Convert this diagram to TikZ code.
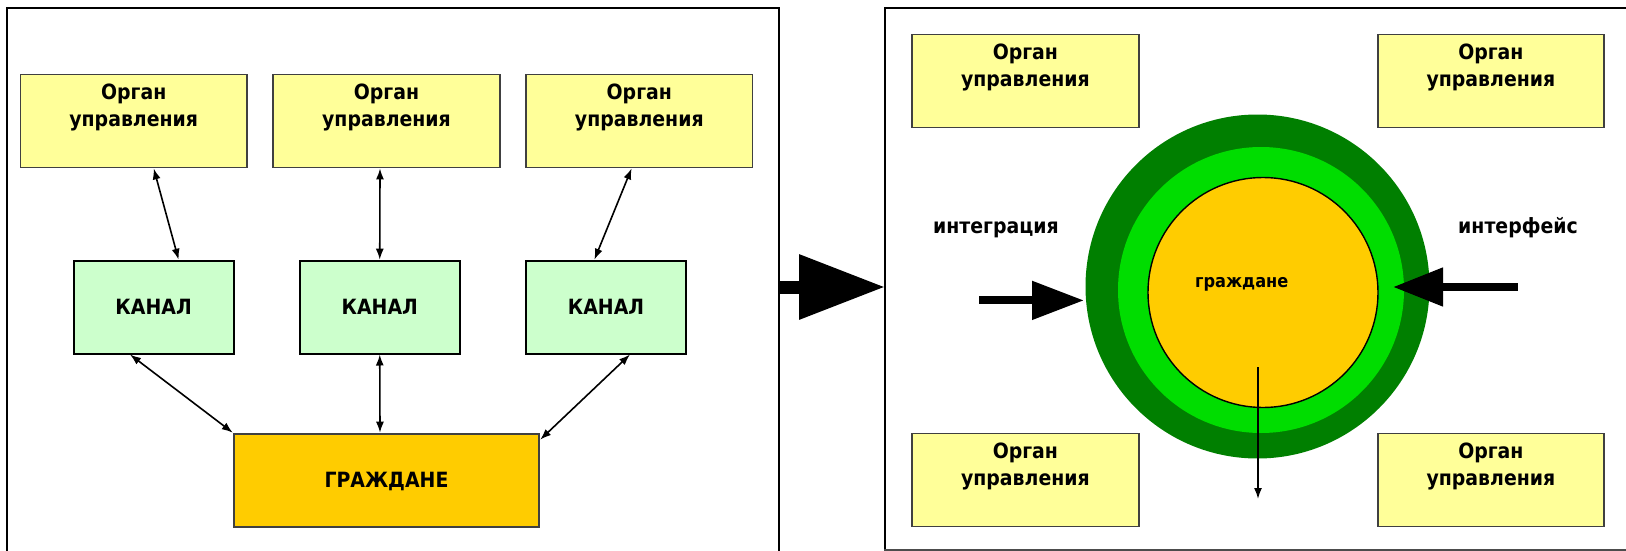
\documentclass[tikz,border=0pt]{standalone}
\usepackage{fontspec}
\setmainfont{DejaVu Sans}[FakeStretch=0.9]
\usetikzlibrary{arrows.meta}
\definecolor{boxyellow}{HTML}{FFFF99}
\definecolor{boxgreen}{HTML}{CCFFCC}
\definecolor{citizen}{HTML}{FFCC00}
\definecolor{darkgr}{HTML}{007F00}
\definecolor{brightgr}{HTML}{00DD00}
\begin{document}
\begin{tikzpicture}[x=1pt,y=-1pt,
  organ/.style={draw=black!75, line width=1.8pt, fill=boxyellow, minimum width=226.5pt, minimum height=93pt, inner sep=0pt},
  organtxt/.style={anchor=north, inner sep=0pt, align=center, font=\bfseries\fontsize{21}{26.2}\selectfont},
  kanal/.style={draw=black, line width=1.8pt, fill=boxgreen, minimum width=160pt, minimum height=93pt, inner sep=0pt, text depth=0pt, font=\bfseries\fontsize{21}{24}\selectfont},
  citbox/.style={draw=black!75, line width=1.8pt, fill=citizen, minimum width=305.6pt, minimum height=93.4pt, inner sep=0pt, text depth=0pt, font=\bfseries\fontsize{21}{24}\selectfont},
  lbl/.style={anchor=base, inner sep=0pt, font=\bfseries\fontsize{21}{24}\selectfont},
  thinarr/.style={line width=1.6pt, {Latex[length=11pt,width=8pt]}-{Latex[length=11pt,width=8pt]}},
  framebox/.style={line width=2pt, draw=black}
]
\useasboundingbox (0,0) rectangle (1626,551);
\fill[white] (0,0) rectangle (1626,551);
% frames
\draw[framebox] (7,8) rectangle (779,552);
\draw[framebox, draw=black!70] (1630,8) -- (885,8) -- (885,550) -- (1630,550);
\draw[framebox] (1630,8) -- (885,8) -- (885,549);
\coordinate (lfr) at (779,287);
\coordinate (rfr) at (885,287);
% left diagram
\node[organ] (o1) at (133.7,121) {};
\node[organ] (o2) at (386.5,121) {};
\node[organ] (o3) at (639.3,121) {};
\node[organtxt] (o1t) at ([yshift=-10.5pt]o1.north) {Орган\\управления};
\node[organtxt] (o2t) at ([yshift=-10.5pt]o2.north) {Орган\\управления};
\node[organtxt] (o3t) at ([yshift=-10.5pt]o3.north) {Орган\\управления};
\node[kanal] (k1) at (153.6,307.1) {КАНАЛ};
\node[kanal] (k2) at (379.75,307.1) {КАНАЛ};
\node[kanal] (k3) at (606,307.1) {КАНАЛ};
\node[citbox] (g) at (386.5,480.3) {ГРАЖДАНЕ};
\draw[thinarr] ([xshift=20pt]o1.south) -- ([xshift=25pt]k1.north);
\draw[thinarr] ([xshift=-6.5pt]o2.south) -- (k2.north);
\draw[thinarr] ([xshift=-7.7pt]o3.south) -- ([xshift=-11.6pt]k3.north);
\draw[thinarr] ([xshift=-23.6pt]k1.south) -- (g.north west);
\draw[thinarr] (k2.south) -- ([xshift=-6.5pt]g.north);
\draw[thinarr] ([xshift=24pt]k3.south) -- ([yshift=-7pt]g.north east);
% big arrow
\draw[line width=13pt, -{Triangle[length=86pt,width=62pt]}] (lfr) -- (rfr);
% right diagram
\node[organ] (r1) at (1025.4,81) {};
\node[organ] (r2) at (1490.9,81) {};
\node[organ] (r3) at (1025.4,480) {};
\node[organ] (r4) at (1490.9,480) {};
\node[organtxt] (r1t) at ([yshift=-10.5pt]r1.north) {Орган\\управления};
\node[organtxt] (r2t) at ([yshift=-10.5pt]r2.north) {Орган\\управления};
\node[organtxt] (r3t) at ([yshift=-10.5pt]r3.north) {Орган\\управления};
\node[organtxt] (r4t) at ([yshift=-10.5pt]r4.north) {Орган\\управления};
\node[circle, fill=darkgr, minimum size=344pt, inner sep=0pt] (c1) at (1257.5,286.5) {};
\node[circle, fill=brightgr, minimum size=286pt, inner sep=0pt] (c2) at (1261,290) {};
\node[circle, fill=citizen, draw=black, line width=1.4pt, minimum size=230pt, inner sep=0pt] (c3) at (1263,292.5) {};
\node[anchor=base, inner sep=0pt, font=\bfseries\fontsize{18}{20}\selectfont] (gt) at (1241.7,287.7) {граждане};
\coordinate (dstart) at (1258,367);
\coordinate (dend) at (1258,499);
\draw[line width=1.6pt, -{Latex[length=11pt,width=8pt]}] (dstart) -- (dend);
\node[lbl] (integ) at (995.9,233.3) {интеграция};
\node[lbl] (interf) at (1518,233.3) {интерфейс};
\coordinate (ia) at (979,300.4);
\coordinate (ib) at (1084,300.4);
\draw[line width=8pt, -{Triangle[length=52pt,width=37pt]}] (ia) -- (ib);
\coordinate (fa) at (1517.7,287);
\coordinate (fb) at (1393,287);
\draw[line width=8pt, -{Triangle[length=50pt,width=37pt]}] (fa) -- (fb);
\end{tikzpicture}
\end{document}
